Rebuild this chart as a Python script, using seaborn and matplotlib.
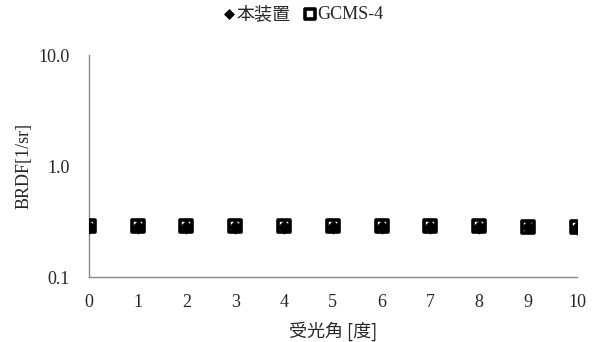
import matplotlib
matplotlib.use("Agg")
import matplotlib.pyplot as plt
import seaborn as sns
import pandas as pd
from matplotlib.ticker import FixedLocator, FixedFormatter, NullLocator

angles = [0, 1, 2, 3, 4, 5, 6, 7, 8, 9, 10]
brdf_device = [0.285, 0.284, 0.284, 0.282, 0.282, 0.282, 0.283, 0.281, 0.281, 0.280, 0.279]
brdf_gcms = [0.290, 0.289, 0.289, 0.288, 0.288, 0.287, 0.288, 0.287, 0.286, 0.285, 0.285]
series_names = ["本装置", "GCMS-4"]
yticks = [0.1, 1.0, 10.0]
ytick_labels = ["0.1", "1.0", "10.0"]

sns.set_style("white")
plt.rcParams['font.family'] = ['Liberation Serif', 'Noto Sans CJK JP']

df = pd.DataFrame({
    "angle": angles * 2,
    "brdf": brdf_device + brdf_gcms,
    "series": [series_names[0]] * len(angles) + [series_names[1]] * len(angles),
})

fig = plt.figure(figsize=(5.96, 3.42), dpi=100)
ax = fig.add_axes([0.149, 0.190, 0.819, 0.649])

sns.scatterplot(data=df[df.series == series_names[1]], x="angle", y="brdf",
                marker="s", s=80, facecolor="white", edgecolor="black",
                linewidth=2.6, ax=ax, label=series_names[1], zorder=3)
sns.scatterplot(data=df[df.series == series_names[0]], x="angle", y="brdf",
                marker="D", s=45, color="black", edgecolor="black",
                ax=ax, label=series_names[0], zorder=4)

ax.set_yscale("log")
ax.set_ylim(0.1, 10.0)
ax.set_xlim(0, 10)
ax.yaxis.set_major_locator(FixedLocator(yticks))
ax.yaxis.set_major_formatter(FixedFormatter(ytick_labels))
ax.yaxis.set_minor_locator(NullLocator())
ax.set_xticks(angles)
ax.set_xticklabels([str(a) for a in angles])

for s in ["top", "right"]:
    ax.spines[s].set_visible(False)
for s in ["left", "bottom"]:
    ax.spines[s].set_color("#888888")
    ax.spines[s].set_linewidth(1.0)
ax.tick_params(axis="y", direction="inout", length=12, width=1.0, color="#888888",
               labelsize=13, pad=8)
ax.tick_params(axis="x", direction="out", length=4, width=1.0, color="#888888",
               labelsize=13, pad=8)
ax.set_ylabel("BRDF[1/sr]", fontsize=13, family=['Liberation Serif'], labelpad=4)
ax.set_xlabel("受光角 [度]", fontsize=13, family=['Noto Sans CJK JP'], labelpad=8)

handles, labels = ax.get_legend_handles_labels()
order = [labels.index(series_names[0]), labels.index(series_names[1])]
leg = ax.legend([handles[i] for i in order], [labels[i] for i in order],
                loc="upper center", bbox_to_anchor=(0.435, 1.30), ncol=2,
                frameon=False, handletextpad=-0.2, handlelength=1.2,
                columnspacing=0.5, markerscale=0.75,
                prop={'family': ['Noto Sans CJK JP'], 'size': 13})
for t in leg.get_texts():
    if t.get_text() == "GCMS-4":
        t.set_family(['Liberation Serif'])

fig.savefig("out.png", dpi=100)
